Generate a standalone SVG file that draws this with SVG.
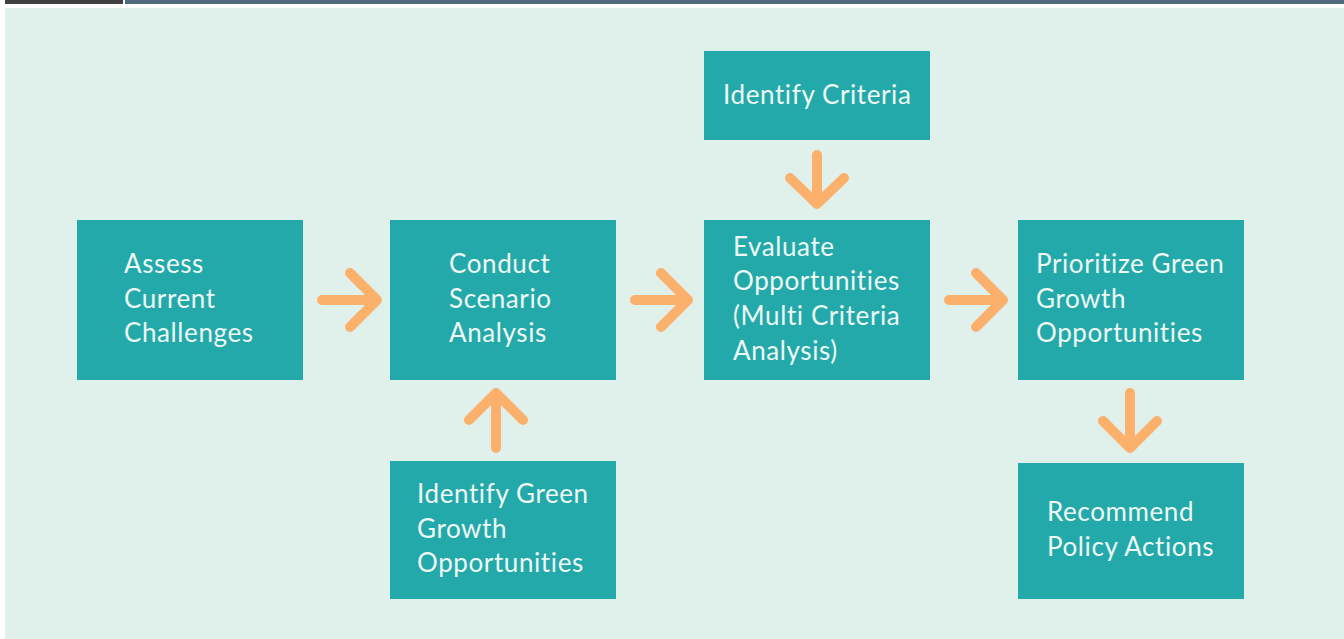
<svg xmlns="http://www.w3.org/2000/svg" width="1344" height="639" viewBox="0 0 1344 639">
<defs>
<style>
.box{fill:#23a9aa}
.t{font-family:Lato,"Noto Sans",sans-serif;font-size:26px;letter-spacing:0.6px;font-variant-ligatures:none;font-feature-settings:"liga" 0,"clig" 0;fill:#eef8f4}
.arr{fill:none;stroke:#fbb06b;stroke-width:10;stroke-linecap:round;stroke-linejoin:round}
</style>
</defs>
<rect x="0" y="0" width="1344" height="639" fill="#ffffff"/>
<rect x="5" y="0" width="118" height="4" fill="#404040"/>
<rect x="125" y="0" width="1219" height="4" fill="#4e6b7c"/>
<rect x="5" y="8" width="1339" height="631" fill="#e0f0ea"/>
<g id="assess"><rect class="box" x="77" y="220" width="226" height="160"/>
<text class="t"><tspan x="124" y="273">Assess</tspan><tspan x="124" y="308">Current</tspan><tspan x="124" y="342">Challenges</tspan></text></g>
<g id="conduct"><rect class="box" x="390" y="220" width="226" height="160"/>
<text class="t"><tspan x="449" y="273">Conduct</tspan><tspan x="449" y="308">Scenario</tspan><tspan x="449" y="342">Analysis</tspan></text></g>
<g id="evaluate"><rect class="box" x="704" y="220" width="226" height="160"/>
<text class="t"><tspan x="733" y="256">Evaluate</tspan><tspan x="733" y="290">Opportunities</tspan><tspan x="733" y="325">(Multi Criteria</tspan><tspan x="733" y="360">Analysis)</tspan></text></g>
<g id="prioritize"><rect class="box" x="1018" y="220" width="226" height="160"/>
<text class="t"><tspan x="1036" y="273">Prioritize Green</tspan><tspan x="1036" y="308">Growth</tspan><tspan x="1036" y="342">Opportunities</tspan></text></g>
<g id="criteria"><rect class="box" x="704" y="51" width="226" height="89"/>
<text class="t" x="723" y="104">Identify Criteria</text></g>
<g id="identify-green"><rect class="box" x="390" y="461" width="226" height="138"/>
<text class="t"><tspan x="417" y="503">Identify Green</tspan><tspan x="417" y="538">Growth</tspan><tspan x="417" y="572">Opportunities</tspan></text></g>
<g id="recommend"><rect class="box" x="1018" y="463" width="226" height="136"/>
<text class="t"><tspan x="1047" y="521">Recommend</tspan><tspan x="1047" y="556">Policy Actions</tspan></text></g>
<g id="connectors">
<path class="arr" d="M322 300H377M350 273L377 300L350 327"/>
<path class="arr" d="M635 300H688M661 273L688 300L661 327"/>
<path class="arr" d="M949 300H1003M976 273L1003 300L976 327"/>
<path class="arr" d="M817 155V204M790 178L817 204L844 178"/>
<path class="arr" d="M1130 393V448M1103 421L1130 448L1157 421"/>
<path class="arr" d="M496 448V393M469 420L496 393L523 420"/>
</g>
</svg>
